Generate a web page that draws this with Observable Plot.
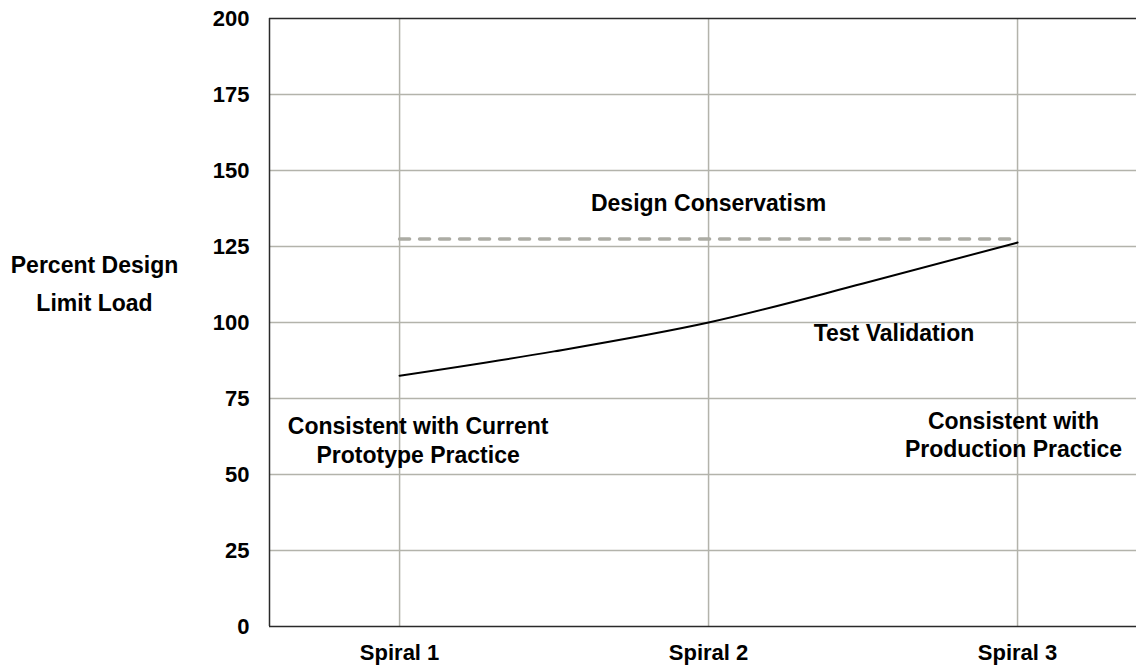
<!DOCTYPE html>
<html>
<head>
<meta charset="utf-8">
<script src="https://cdn.jsdelivr.net/npm/d3@7"></script>
<script src="https://cdn.jsdelivr.net/npm/@observablehq/plot@0.6"></script>
<style>
  html, body { margin: 0; padding: 0; background: #fff; }
  #chart { width: 1136px; height: 668px; }
</style>
</head>
<body>
<div id="chart"></div>
<script>
// ---- data ----
const spiralLabels = ["Spiral 1", "Spiral 2", "Spiral 3"];
const spiralStage = [1, 2, 3];
const curveStage = [1, 1.5, 2, 2.5, 3];
const curveLoad = [82.5, 90.5, 100, 112.8, 126.3];
const conservatismStage = [1, 3];
const conservatismLoad = [127.5, 127.5];
const yTicks = [0, 25, 50, 75, 100, 125, 150, 175, 200];
const yTitle = "Percent Design\nLimit Load";
const noteConservatism = "Design Conservatism";
const noteTest = "Test Validation";
const notePrototype = "Consistent with Current\nPrototype Practice";
const noteProduction = "Consistent with\nProduction Practice";

// ---- layout ----
const xDomain = [0.579, 3.385];
const curve = curveStage.map((s, i) => ({s, v: curveLoad[i]}));
const dashed = conservatismStage.map((s, i) => ({s, v: conservatismLoad[i]}));
const gridCol = "#b3b3ab";
const axisCol = "#2a2a2a";
const font = {fontSize: 23, fontWeight: "bold", fill: "#000"};

const chart = Plot.plot({
  width: 1136,
  height: 668,
  marginLeft: 269,
  marginRight: 0,
  marginTop: 18,
  marginBottom: 42,
  style: {fontFamily: "'Liberation Sans', Arial, sans-serif", fontSize: "22px", fontWeight: "bold", background: "#fff", color: "#000"},
  x: {domain: xDomain},
  y: {domain: [0, 200]},
  marks: [
    Plot.ruleY(yTicks.slice(1, -1), {stroke: gridCol, strokeWidth: 1.5}),
    Plot.ruleX(spiralStage, {y1: 0, y2: 200, stroke: gridCol, strokeWidth: 1.5}),
    Plot.ruleY([200], {stroke: axisCol, strokeWidth: 1.5}),
    Plot.ruleY([0], {stroke: axisCol, strokeWidth: 1.5}),
    Plot.ruleX([xDomain[0]], {y1: 0, y2: 200, stroke: axisCol, strokeWidth: 1.5}),
    Plot.line(dashed, {x: "s", y: "v", stroke: "#acaca4", strokeWidth: 3.5, strokeDasharray: "10,10"}),
    Plot.line(curve, {x: "s", y: "v", stroke: "#000", strokeWidth: 2, curve: "monotone-x"}),
    Plot.axisY({ticks: yTicks, tickSize: 0, tickPadding: 20, fontSize: 22, fontWeight: "bold", label: null}),
    Plot.axisX({ticks: spiralStage, tickSize: 0, tickPadding: 18, fontSize: 22, fontWeight: "bold", tickFormat: d => spiralLabels[d - 1], label: null}),
    Plot.text([noteConservatism], {x: 2, y: 139, text: d => d, ...font}),
    Plot.text([noteTest], {x: 2.6, y: 96.4, text: d => d, ...font}),
    Plot.text([notePrototype], {x: 1.06, y: 61.5, text: d => d, lineHeight: 1.22, ...font}),
    Plot.text([noteProduction], {x: 2.987, y: 63.2, text: d => d, lineHeight: 1.22, ...font}),
    Plot.text([yTitle], {frameAnchor: "left", textAnchor: "middle", dx: -175, dy: -43, text: d => d, lineHeight: 1.65, ...font})
  ]
});
document.getElementById("chart").appendChild(chart);
</script>
</body>
</html>
